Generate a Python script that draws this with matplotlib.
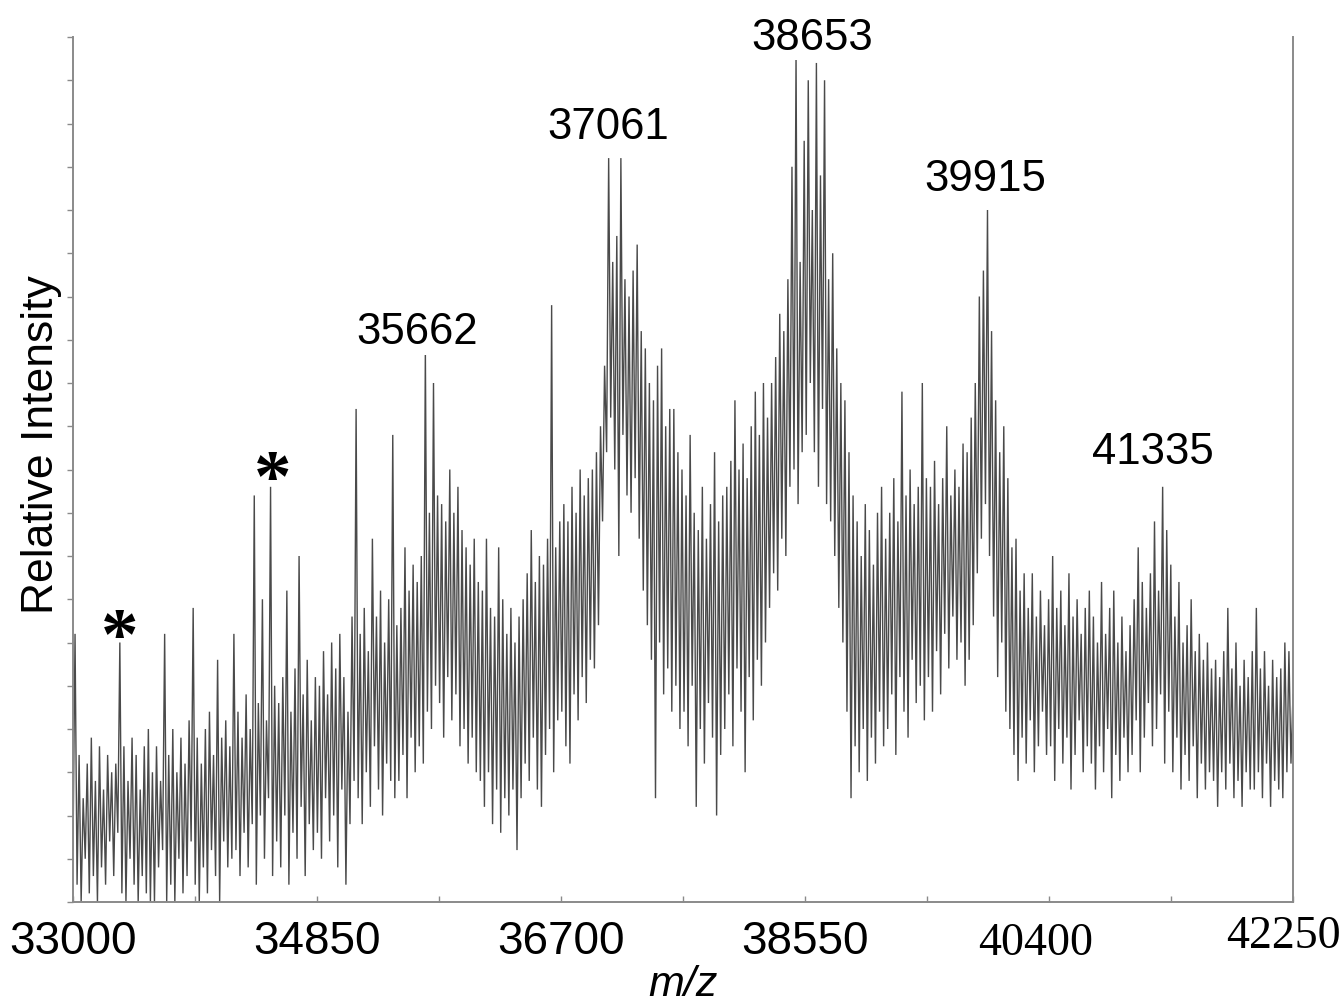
import numpy as np
import matplotlib
matplotlib.use("Agg")
import matplotlib.pyplot as plt
from matplotlib.transforms import ScaledTranslation

# ---- data (relative intensity, 0-100) ----
mz_start, mz_end = 33000, 42250

stroke_high = [
    31, 17, 12, 16, 19, 14, 18, 13, 17, 15,
    16, 30, 18, 14, 19, 17, 13, 18, 20, 15,
    18, 14, 31, 17, 20, 15, 19, 16, 21, 34,
    19, 16, 20, 22, 17, 28, 19, 21, 18, 31,
    22, 19, 24, 20, 47, 23, 35, 21, 48, 25,
    23, 26, 36, 22, 27, 40, 24, 28, 21, 26,
    25, 29, 24, 30, 27, 31, 26, 22, 33, 57,
    31, 34, 29, 42, 33, 36, 30, 35, 54, 32,
    34, 41, 36, 39, 37, 40, 64, 45, 60, 47,
    46, 44, 50, 45, 48, 43, 41, 39, 42, 37,
    36, 42, 34, 33, 41, 35, 31, 34, 30, 33,
    35, 38, 43, 37, 40, 39, 42, 69, 41, 44,
    46, 44, 48, 45, 50, 47, 49, 50, 52, 55,
    62, 86, 74, 77, 86, 72, 70, 73, 76, 66,
    64, 60, 58, 62, 64, 55, 57, 57, 52, 50,
    47, 54, 45, 43, 48, 42, 46, 52, 44, 47,
    48, 51, 58, 50, 53, 49, 55, 59, 54, 60,
    56, 60, 63, 68, 66, 72, 85, 98, 74, 88,
    95, 80, 97, 84, 95, 72, 75, 64, 60, 58,
    52, 47, 44, 40, 46, 43, 39, 45, 48, 42,
    45, 49, 44, 59, 47, 50, 46, 48, 60, 49,
    48, 51, 46, 49, 55, 47, 50, 48, 53, 52,
    56, 60, 70, 73, 80, 66, 58, 52, 55, 49,
    41, 42, 36, 38, 34, 38, 33, 36, 32, 35,
    40, 34, 36, 32, 38, 33, 35, 31, 34, 36,
    33, 30, 37, 31, 34, 36, 30, 33, 29, 32,
    35, 41, 37, 34, 38, 44, 36, 48, 43, 39,
    33, 37, 30, 32, 35, 29, 31, 28, 30, 27,
    28, 26, 29, 34, 27, 30, 25, 28, 26, 29,
    34, 27, 29, 25, 28, 26, 27, 30, 29, 24,
]

stroke_low = [
    6, 2, 0, 5, 1, 3, 0, 4, 2, 7,
    3, 8, 1, 0, 5, 2, 0, 3, 1, 0,
    0, 4, 6, 0, 2, 0, 5, 1, 3, 7,
    2, 0, 4, 1, 6, 3, 0, 7, 4, 5,
    6, 3, 8, 4, 9, 2, 10, 5, 12, 3,
    7, 4, 10, 2, 8, 5, 11, 3, 9, 6,
    8, 5, 12, 7, 10, 4, 13, 2, 9, 14,
    12, 9, 15, 11, 18, 13, 10, 16, 14, 12,
    14, 17, 12, 19, 15, 18, 16, 22, 20, 25,
    23, 19, 26, 21, 24, 18, 20, 16, 19, 15,
    14, 11, 15, 9, 13, 8, 12, 10, 13, 6,
    12, 16, 14, 19, 13, 11, 17, 20, 15, 21,
    22, 18, 16, 24, 21, 26, 23, 28, 27, 32,
    44, 52, 56, 50, 40, 54, 47, 45, 49, 42,
    36, 32, 28, 12, 30, 24, 27, 22, 25, 20,
    22, 18, 25, 11, 20, 16, 23, 19, 10, 17,
    20, 24, 18, 27, 22, 15, 26, 21, 28, 25,
    30, 34, 38, 36, 42, 40, 48, 50, 46, 52,
    54, 60, 52, 48, 57, 46, 44, 40, 34, 30,
    22, 12, 18, 15, 20, 14, 19, 16, 22, 18,
    20, 24, 17, 26, 22, 19, 28, 23, 25, 21,
    26, 22, 29, 24, 31, 27, 33, 28, 30, 25,
    28, 32, 38, 42, 46, 40, 33, 26, 30, 22,
    20, 17, 14, 19, 16, 21, 15, 18, 22, 17,
    18, 14, 20, 16, 19, 13, 17, 21, 15, 18,
    16, 13, 18, 15, 20, 12, 17, 14, 19, 15,
    17, 21, 15, 19, 23, 18, 20, 24, 16, 22,
    15, 19, 13, 17, 14, 18, 12, 16, 13, 15,
    14, 11, 15, 13, 16, 12, 14, 11, 15, 13,
    13, 15, 12, 16, 11, 14, 13, 12, 15, 16,
]

peak_labels = ["38653", "37061", "39915", "35662", "41335"]
peak_label_mz = [38603, 37056, 39914, 35608, 41188]
peak_label_y = [100.0, 89.6, 83.6, 65.9, 52.1]

star_mz = [33356, 34516]
star_y = [30.3, 48.5]

xtick_values = [33000, 34850, 36700, 38550, 40400, 42250]
xtick_labels = ["33000", "34850", "36700", "38550", "40400", "42250"]

# ---- figure ----
fig = plt.figure(figsize=(13.43, 10.04), dpi=100)
ax = fig.add_axes([73 / 1343, 101 / 1004, 1220 / 1343, 865 / 1004])

# zigzag trace: alternate low / high values
trace = np.empty(2 * len(stroke_high))
trace[0::2] = stroke_low
trace[1::2] = stroke_high
mz = np.linspace(mz_start, mz_end, trace.size)
ax.plot(mz, trace, color="#4a4a4a", lw=1.0, solid_joinstyle="miter")

ax.set_xlim(mz_start, mz_end)
ax.set_ylim(0, 100)

for s in ["left", "right", "bottom"]:
    ax.spines[s].set_color("#8a8a8a")
    ax.spines[s].set_linewidth(1.4)
ax.spines["top"].set_visible(False)

ax.set_yticks(np.arange(0, 101, 5))
ax.set_yticklabels([])
ax.tick_params(axis="y", direction="out", length=4, color="#8a8a8a", width=1)

ax.set_xticks(xtick_values)
ax.set_xticks([v + 925 for v in xtick_values[:-1]], minor=True)
ax.set_xticklabels(xtick_labels)
ax.tick_params(axis="x", which="both", direction="in", length=4,
               color="#8a8a8a", width=1, pad=12, labelsize=33)
shifts = [0, 0, 0, 0, -13, -10]
dy = [0, 0, 0, 0, -3, 4]
for i, lab in enumerate(ax.get_xticklabels()):
    lab.set_fontfamily("Liberation Serif" if i >= 4 else "Liberation Sans")
    if i >= 4:
        lab.set_fontsize(33)
    lab.set_transform(lab.get_transform() +
                      ScaledTranslation(shifts[i] / 100, dy[i] / 100,
                                        fig.dpi_scale_trans))

ax.set_xlabel("m/z", fontsize=31, style="italic", family="Liberation Sans",
              labelpad=0)
ax.set_ylabel("Relative Intensity", fontsize=32, family="Liberation Sans")
ax.yaxis.set_label_coords(-0.009, 0.53)

for lab, x, y in zip(peak_labels, peak_label_mz, peak_label_y):
    ax.text(x, y, lab, fontsize=31.5, family="Liberation Sans", ha="center",
            va="center", clip_on=False,
            bbox=dict(facecolor="white", edgecolor="none", pad=2))

for x, y in zip(star_mz, star_y):
    ax.text(x, y, "*", fontsize=54, family="Liberation Serif",
            fontweight="bold", ha="center", va="center", color="black")

fig.savefig("out.png", dpi=100, facecolor="white")
